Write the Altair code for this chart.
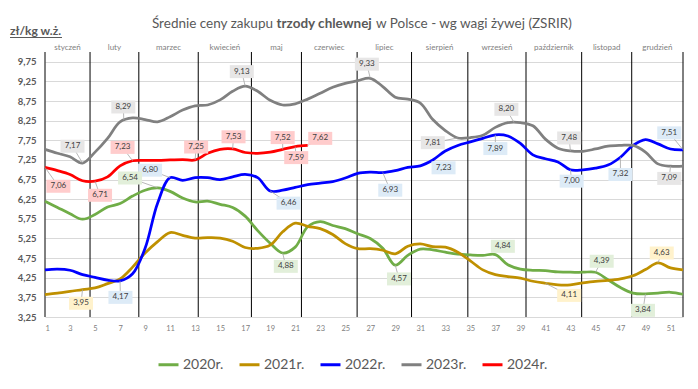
import altair as alt
import pandas as pd

weeks = list(range(1, 53))
series_names = ["2020r.", "2021r.", "2022r.", "2023r.", "2024r."]
series_colors = ["#70AD47", "#BF9000", "#0000FF", "#808080", "#FF0000"]
label_fills = ["#E2EFDA", "#FFF2CC", "#DDEBF7", "#E7E6E6", "#FFCCCC"]

y2020 = [6.20, 6.04, 5.88, 5.74, 5.86, 6.05, 6.14, 6.33, 6.48, 6.54,
         6.45, 6.28, 6.18, 6.20, 6.12, 6.04, 5.82, 5.45, 5.13, 4.88,
         5.03, 5.55, 5.68, 5.58, 5.50, 5.37, 5.25, 5.00, 4.57, 4.82,
         4.98, 4.96, 4.90, 4.85, 4.83, 4.82, 4.84, 4.58, 4.47, 4.44,
         4.43, 4.40, 4.39, 4.39, 4.39, 4.20, 4.00, 3.86, 3.84, 3.86,
         3.88, 3.83]
y2021 = [3.82, 3.86, 3.90, 3.95, 3.99, 4.10, 4.22, 4.52, 4.88, 5.17,
         5.40, 5.33, 5.26, 5.27, 5.26, 5.18, 5.02, 5.00, 5.08, 5.42,
         5.64, 5.56, 5.50, 5.35, 5.12, 4.99, 4.99, 4.95, 4.86, 5.05,
         5.11, 5.04, 5.03, 4.90, 4.68, 4.45, 4.33, 4.28, 4.24, 4.16,
         4.11, 4.07, 4.07, 4.12, 4.16, 4.18, 4.22, 4.30, 4.46, 4.63,
         4.50, 4.45]
y2022 = [4.45, 4.47, 4.44, 4.33, 4.26, 4.19, 4.17, 4.35, 5.00, 6.15,
         6.80, 6.73, 6.80, 6.80, 6.75, 6.82, 6.88, 6.80, 6.46, 6.48,
         6.55, 6.62, 6.66, 6.70, 6.79, 6.91, 6.94, 6.93, 6.98, 7.06,
         7.10, 7.25, 7.48, 7.62, 7.71, 7.80, 7.89, 7.86, 7.67, 7.38,
         7.28, 7.20, 7.00, 7.00, 7.04, 7.12, 7.32, 7.62, 7.77, 7.66,
         7.53, 7.51]
y2023 = [7.52, 7.42, 7.33, 7.17, 7.45, 7.80, 8.22, 8.32, 8.28, 8.22,
         8.35, 8.52, 8.63, 8.65, 8.78, 9.00, 9.13, 9.00, 8.77, 8.65,
         8.68, 8.80, 8.95, 9.10, 9.20, 9.27, 9.33, 9.12, 8.85, 8.80,
         8.70, 8.28, 8.00, 7.81, 7.82, 7.88, 8.08, 8.20, 8.20, 8.12,
         7.78, 7.55, 7.48, 7.47, 7.53, 7.60, 7.62, 7.62, 7.45, 7.15,
         7.09, 7.09]
y2024 = [7.06, 6.98, 6.88, 6.72, 6.71, 6.82, 7.10, 7.23, 7.24, 7.24,
         7.25, 7.26, 7.25, 7.42, 7.52, 7.53, 7.44, 7.42, 7.45, 7.52,
         7.59, 7.62]

# month boundaries (in week units) and month names
month_bounds = [1, 4.6, 8.5, 13.25, 17.5, 21.5, 25.95, 30.3, 34.8, 39.45, 43.9, 47.9, 52]
month_names = ["styczeń", "luty", "marzec", "kwiecień", "maj", "czerwiec", "lipiec",
               "sierpień", "wrzesień", "październik", "listopad", "grudzień"]

# data labels: series, label centre (week, value), pointed data point (week, value), text
lab_series = ["2024r."] * 8 + ["2023r."] * 8 + ["2022r."] * 9 + ["2020r."] * 6 + ["2021r."] * 3
lab_x = [2.07, 5.4, 7.2, 13.08, 16.07, 20.0, 21.08, 23.0,
         3.2, 7.26, 16.73, 26.73, 32.0, 37.88, 42.9, 50.9,
         7.03, 9.4, 20.47, 28.6, 32.86, 37.0, 43.1, 47.0, 50.9,
         7.8, 20.25, 29.3, 37.6, 45.5, 48.8,
         3.88, 42.9, 50.3]
lab_y = [6.58, 6.35, 7.57, 7.58, 7.84, 7.82, 7.31, 7.80,
         7.60, 8.60, 9.50, 9.69, 7.69, 8.54, 7.81, 6.78,
         3.75, 6.99, 6.15, 6.48, 7.05, 7.54, 6.71, 6.88, 7.94,
         6.79, 4.54, 4.22, 5.05, 4.67, 3.42,
         3.60, 3.80, 4.88]
pt_x = [1, 5, 8, 13, 16, 20, 21, 22,
        4, 7.3, 17, 27, 34, 38.5, 43, 51,
        7, 11, 19, 28, 32.86, 37, 43, 47, 52,
        10, 20, 29, 37.6, 45, 49,
        4, 41, 50]
pt_y = [7.06, 6.71, 7.23, 7.25, 7.53, 7.52, 7.59, 7.62,
        7.17, 8.27, 9.13, 9.33, 7.81, 8.20, 7.48, 7.09,
        4.17, 6.80, 6.46, 6.93, 7.05, 7.89, 7.00, 7.32, 7.51,
        6.54, 4.88, 4.57, 5.05, 4.39, 3.84,
        3.95, 4.11, 4.63]
lab_text = ["7,06", "6,71", "7,23", "7,25", "7,53", "7,52", "7,59", "7,62",
            "7,17", "8,29", "9,13", "9,33", "7,81", "8,20", "7,48", "7,09",
            "4,17", "6,80", "6,46", "6,93", "7,23", "7,89", "7,00", "7,32", "7,51",
            "6,54", "4,88", "4,57", "4,84", "4,39", "3,84",
            "3,95", "4,11", "4,63"]

y_ticks = [3.25, 3.75, 4.25, 4.75, 5.25, 5.75, 6.25, 6.75, 7.25, 7.75, 8.25, 8.75, 9.25, 9.75]
x_ticks = list(range(1, 53, 2))

# ---- tables ----
rows = []
for name, vals in zip(series_names, [y2020, y2021, y2022, y2023, y2024]):
    for w, v in zip(weeks, vals):
        rows.append({"week": w, "value": v, "rok": name})
lines_df = pd.DataFrame(rows)

labels_df = pd.DataFrame({"rok": lab_series, "lx": lab_x, "ly": lab_y,
                          "px": pt_x, "py": pt_y, "txt": lab_text})
bounds_df = pd.DataFrame({"b": month_bounds})
months_df = pd.DataFrame({
    "c": [(a + b) / 2 for a, b in zip(month_bounds[:-1], month_bounds[1:])],
    "m": month_names})

FONT = "Lato"
xs = alt.Scale(domain=[1, 52], nice=False, zero=False)
ys = alt.Scale(domain=[3.25, 10.0], nice=False, zero=False)
AX = alt.Axis(values=x_ticks, grid=False, domain=False, ticks=False, title=None,
              labelFont=FONT, labelFontSize=7.5, labelColor="#808080", labelPadding=7)
AY = alt.Axis(values=y_ticks, grid=True, gridColor="#d9d9d9", gridWidth=1, domain=False,
              ticks=False, title=None, labelFont=FONT, labelFontSize=9.5,
              labelFontWeight="bold", labelColor="#595959", labelPadding=9,
              labelExpr="replace(format(datum.value, '.2f'), '.', ',')")


def X(f):
    return alt.X(f, type="quantitative", scale=xs, axis=AX)


def Y(f):
    return alt.Y(f, type="quantitative", scale=ys, axis=AY)


bounds = alt.Chart(bounds_df).mark_rule(color="#000000", strokeWidth=1).encode(
    x=X("b"))

color = alt.Color("rok:N", scale=alt.Scale(domain=series_names, range=series_colors),
                  legend=alt.Legend(title=None, orient="none", direction="horizontal",
                                    legendX=112, legendY=301, symbolType="stroke",
                                    symbolSize=400, symbolStrokeWidth=3,
                                    labelFont=FONT, labelFontSize=14,
                                    labelColor="#595959", columnPadding=9,
                                    labelOffset=3, padding=0))

lines = alt.Chart(lines_df).mark_line(strokeWidth=2.75, interpolate="catmull-rom").encode(
    x=X("week"), y=Y("value"), color=color, detail="rok:N")

leaders = alt.Chart(labels_df).mark_rule(color="#a6a6a6", strokeWidth=0.8).encode(
    x=X("lx"), y=Y("ly"), x2="px:Q", y2="py:Q")

boxes = alt.Chart(labels_df).mark_point(
    shape="M-1.2,-0.65H1.2V0.65H-1.2Z", size=400, filled=True, opacity=1, strokeWidth=0
).encode(
    x=X("lx"), y=Y("ly"),
    fill=alt.Fill("rok:N", scale=alt.Scale(domain=series_names, range=label_fills), legend=None))

texts = alt.Chart(labels_df).mark_text(font=FONT, fontSize=8, color="#404040").encode(
    x=X("lx"), y=Y("ly"), text="txt:N")

months = alt.Chart(months_df).mark_text(font=FONT, fontSize=8, color="#808080",
                                        baseline="middle").encode(
    x=X("c"), y=alt.value(-4), text="m:N")

one = pd.DataFrame({"a": [0]})
title_pre = alt.Chart(one).mark_text(font=FONT, fontSize=13.5, color="#595959",
                                     align="right", baseline="alphabetic").encode(
    x=alt.value(228), y=alt.value(-24), text=alt.value("Średnie ceny zakupu"))
title_bold = alt.Chart(one).mark_text(font=FONT, fontSize=13.5, color="#595959",
                                      fontWeight="bold", align="left",
                                      baseline="alphabetic").encode(
    x=alt.value(231.5), y=alt.value(-24), text=alt.value("trzody chlewnej"))
title_post = alt.Chart(one).mark_text(font=FONT, fontSize=13.5, color="#595959",
                                      align="left", baseline="alphabetic").encode(
    x=alt.value(331), y=alt.value(-24), text=alt.value("w Polsce - wg wagi żywej (ZSRIR)"))
unit = alt.Chart(one).mark_text(font=FONT, fontSize=12, color="#595959",
                                fontWeight="bold", align="left",
                                baseline="alphabetic").encode(
    x=alt.value(-35), y=alt.value(-17.5), text=alt.value("zł/kg w.ż."))
unit_line = alt.Chart(one).mark_rule(color="#595959", strokeWidth=1).encode(
    x=alt.value(-35), x2=alt.value(17), y=alt.value(-14.5))

chart = alt.layer(
    lines.mark_line(opacity=0), bounds, lines, leaders, boxes, texts, months,
    title_pre, title_bold, title_post, unit, unit_line
).properties(
    width=638, height=265,
    autosize=alt.AutoSizeParams(type="none"),
    padding={"left": 37, "top": 44, "right": 7, "bottom": 64},
    background="white",
).configure_view(stroke=None)

chart.save("out.html", embed_options={"renderer": "svg", "actions": False})
